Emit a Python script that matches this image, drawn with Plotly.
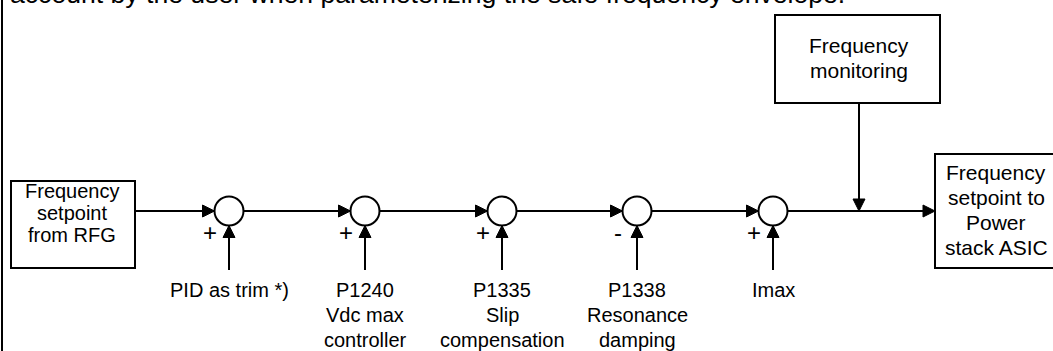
import plotly.graph_objects as go

# ---- content ----
header_text = "account by the user when parameterizing the safe frequency envelope."
source_lines = ["Frequency", "setpoint", "from RFG"]
monitor_lines = ["Frequency", "monitoring"]
target_lines = ["Frequency", "setpoint to", "Power", "stack ASIC"]
input_labels = [["PID as trim *)"], ["P1240", "Vdc max", "controller"],
                ["P1335", "Slip", "compensation"], ["P1338", "Resonance", "damping"], ["Imax"]]
input_signs = ["+", "+", "+", "-", "+"]

# ---- layout geometry (pixels) ----
W, H = 1053, 351
junction_x = [229, 365, 502, 637, 773]
LINE_Y = 211
R = 14.5
ARW = 12   # arrow length
AHW = 6    # arrow half width
FONT = "Liberation Sans, Arial, sans-serif"
BLACK = "#000000"
LW = 2

shapes = []
annotations = []


def line(x0, y0, x1, y1):
    shapes.append(dict(type="line", x0=x0, y0=y0, x1=x1, y1=y1,
                       line=dict(color=BLACK, width=LW)))


def rect(x0, y0, x1, y1):
    shapes.append(dict(type="rect", x0=x0, y0=y0, x1=x1, y1=y1,
                       line=dict(color=BLACK, width=LW), fillcolor="white", layer="below"))


def tri(pts):
    p = "M " + " L ".join(f"{x},{y}" for x, y in pts) + " Z"
    shapes.append(dict(type="path", path=p, fillcolor=BLACK,
                       line=dict(color=BLACK, width=1)))


def arrow_right(tx, ty):
    tri([(tx, ty), (tx - ARW, ty - AHW), (tx - ARW, ty + AHW)])


def arrow_up(tx, ty):
    tri([(tx, ty), (tx - AHW, ty + ARW), (tx + AHW, ty + ARW)])


def arrow_down(tx, ty):
    tri([(tx, ty), (tx - AHW, ty - ARW), (tx + AHW, ty - ARW)])


def text_baseline(x, base, s, size=20, xanchor="center"):
    # middle of the text box sits about 0.35 em above the baseline; paper y so off-range text still shows
    ypix = base - 0.35 * size
    annotations.append(dict(x=x, y=1 - ypix / H, xref="x", yref="paper", text=s,
                            showarrow=False, xanchor=xanchor, yanchor="middle",
                            font=dict(family=FONT, size=size, color=BLACK)))


def block_text(x, first_base, lines, spacing, size):
    for i, s in enumerate(lines):
        text_baseline(x, first_base + i * spacing, s, size=size)


# left page border
line(2, 0, 2, H)

# header text (cut off at top)
text_baseline(8, 3, header_text, size=26.6, xanchor="left")

# source box
rect(11, 181, 135, 268)
block_text(72, 198, source_lines, 22, 20)

# monitoring box
rect(775, 15, 940, 103)
block_text(859, 53, monitor_lines, 25, 21)

# target box
rect(935, 154, 1060, 268)
block_text(996, 180, target_lines, 25, 21)

# main signal path
prev = 135
for cx, lab, sg in zip(junction_x, input_labels, input_signs):
    line(prev, LINE_Y, cx - R - ARW + 1, LINE_Y)
    arrow_right(cx - R, LINE_Y)
    shapes.append(dict(type="circle", x0=cx - R, x1=cx + R, y0=LINE_Y - R, y1=LINE_Y + R,
                       line=dict(color=BLACK, width=LW), fillcolor="white"))
    # input from below
    line(cx, 270, cx, LINE_Y + R + ARW - 1)
    arrow_up(cx, LINE_Y + R)
    text_baseline(cx - 19, 241, sg, size=24)
    block_text(cx, 297, lab, 25, 20)
    prev = cx + R

line(prev, LINE_Y, 935 - ARW + 1, LINE_Y)
arrow_right(935, LINE_Y)

# monitoring feed
line(859, 103, 859, LINE_Y - ARW + 1)
arrow_down(859, LINE_Y)

fig = go.Figure()
fig.update_layout(
    width=W, height=H, margin=dict(l=0, r=0, t=0, b=0),
    paper_bgcolor="white", plot_bgcolor="white",
    xaxis=dict(range=[0, W], visible=False, fixedrange=True),
    yaxis=dict(range=[H, 0], visible=False, fixedrange=True),
    shapes=shapes, annotations=annotations, showlegend=False,
)
fig.write_html("out.html", config={"displayModeBar": False},
               post_script="document.body.style.margin='0';document.body.style.overflow='hidden';")
